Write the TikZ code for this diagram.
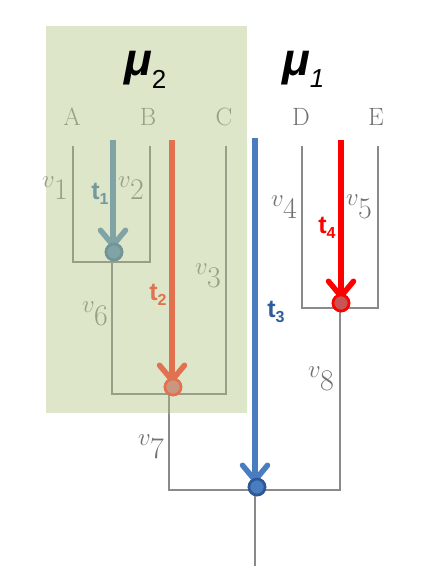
\documentclass[tikz,border=0pt]{standalone}
\usepackage{fontspec}
\newfontfamily\arialfont{Liberation Sans}
\usetikzlibrary{arrows.meta}
\definecolor{boxgreen}{HTML}{DDE6C8}
\definecolor{treegray}{HTML}{8A8A8A}
\definecolor{ingray}{HTML}{979F88}
\definecolor{outtext}{HTML}{727272}
\definecolor{tonecol}{HTML}{80A3A5}
\definecolor{tonetext}{HTML}{7298A0}
\definecolor{ttwocol}{HTML}{E2714F}
\definecolor{ttwofill}{HTML}{C99680}
\definecolor{tthreecol}{HTML}{4A7DC0}
\definecolor{tthreedark}{HTML}{2C5896}
\definecolor{tthreetext}{HTML}{2E5C9E}
\definecolor{tfourcol}{HTML}{FF0000}
\definecolor{tfourfill}{HTML}{C85555}
\newcommand\vlabel[1]{\fontsize{30}{30}\selectfont\raisebox{0.42em}{\fontsize{24}{24}\selectfont$v$}\kern-0.5pt#1}
\newcommand\tlabel[1]{t\raisebox{-5pt}{\fontsize{16}{16}\selectfont#1}}
\tikzset{
  treeline/.style={line width=1.1pt, line cap=rect},
  leaflab/.style={font=\fontsize{25}{25}\selectfont, inner sep=0},
  vlab/.style={inner sep=0},
  tarrow/.style={line width=5.5pt, shorten >=4pt, -{Straight Barb[length=15pt,width=25pt,line cap=round,line join=round]}},
  tnode/.style={circle, minimum size=16pt, inner sep=0, line width=2.6pt},
  tlab/.style={font=\arialfont\bfseries\fontsize{25}{25}\selectfont, inner sep=0},
  mulab/.style={font=\arialfont\bfseries\itshape\fontsize{46}{46}\selectfont, inner sep=0, anchor=base west},
}
\begin{document}
\begin{tikzpicture}[x=1pt,y=-1pt]
\useasboundingbox (0,0) rectangle (432,576);
\fill[white] (0,0) rectangle (432,576);
% highlight box
\fill[boxgreen] (46,26) rectangle (247,413);

% tree coordinates
\coordinate (Atop) at (73,147);  \coordinate (Abot) at (73,262);
\coordinate (Btop) at (150,147); \coordinate (Bbot) at (150,262);
\coordinate (j1) at (112,262);   \coordinate (j1b) at (112,394);
\coordinate (Ctop) at (226,147); \coordinate (Cbot) at (226,394);
\coordinate (j2) at (169,394);   \coordinate (j2b) at (169,490);
\coordinate (Dtop) at (302,147); \coordinate (Dbot) at (302,308);
\coordinate (Etop) at (378,147); \coordinate (Ebot) at (378,308);
\coordinate (j4) at (340,308);   \coordinate (j4b) at (340,490);
\coordinate (root) at (255,490); \coordinate (rootb) at (255,565);

\newcommand\treepaths[1]{%
  \draw[treeline,#1] (Atop) -- (Abot) -- (Bbot) -- (Btop);
  \draw[treeline,#1] (j1) -- (j1b) -- (Cbot) -- (Ctop);
  \draw[treeline,#1] (j2) -- (j2b) -- (j4b) -- (j4);
  \draw[treeline,#1] (Dtop) -- (Dbot) -- (Ebot) -- (Etop);
  \draw[treeline,#1] (root) -- (rootb);
}
\treepaths{treegray}
\begin{scope}
  \clip (46,26) rectangle (247,413);
  \treepaths{ingray}
\end{scope}

% leaf letters
\node[leaflab, text=ingray]  (A) at (72,117) {A};
\node[leaflab, text=ingray]  (B) at (148,117) {B};
\node[leaflab, text=ingray]  (C) at (224,117) {C};
\node[leaflab, text=outtext] (D) at (301,117) {D};
\node[leaflab, text=outtext] (E) at (376,117) {E};

% branch labels
\node[vlab, text=ingray]  (v1) at (55,188) {\vlabel{1}};
\node[vlab, text=ingray]  (v2) at (131,188) {\vlabel{2}};
\node[vlab, text=ingray]  (v3) at (208,276) {\vlabel{3}};
\node[vlab, text=outtext] (v4) at (284,207) {\vlabel{4}};
\node[vlab, text=outtext] (v5) at (359,207) {\vlabel{5}};
\node[vlab, text=ingray]  (v6) at (95,314) {\vlabel{6}};
\node[vlab, text=outtext] (v7) at (151,447) {\vlabel{7}};
\node[vlab, text=outtext] (v8) at (321,379) {\vlabel{8}};

% mu labels
\node[mulab] (mu2) at (124,75) {\char"03BC\raisebox{-13pt}{\mdseries\upshape\fontsize{26}{26}\selectfont 2}};
\node[mulab] (mu1) at (282,75) {\char"03BC\raisebox{-12pt}{\mdseries\fontsize{26}{26}\selectfont 1}};

% event nodes
\coordinate (s1) at (113,140);
\coordinate (s2) at (172,140);
\coordinate (s3) at (255,138);
\coordinate (s4) at (341,140);
\node[tnode, fill=tonecol, draw=tonecol!90!black] (n1) at (114,252) {};
\node[tnode, fill=ttwofill, draw=ttwocol] (n2) at (173,387) {};
\node[tnode, fill=tthreecol, draw=tthreedark] (n3) at (257,487) {};
\node[tnode, fill=tfourfill, draw=tfourcol] (n4) at (341,303) {};

\draw[tarrow, tonecol] (s1) -- (s1 |- n1.center);
\draw[tarrow, ttwocol] (s2) -- (s2 |- n2.center);
\draw[tarrow, tthreecol] (s3) -- (s3 |- n3.center);
\draw[tarrow, tfourcol] (s4) -- (s4 |- n4.center);

% redraw circles on top
\node[tnode, fill=tonecol, draw=tonecol!90!black] at (n1) {};
\node[tnode, fill=ttwofill, draw=ttwocol] at (n2) {};
\node[tnode, fill=tthreecol, draw=tthreedark] at (n3) {};
\node[tnode, fill=tfourfill, draw=tfourcol] at (n4) {};

% t labels
\node[tlab, text=tonetext]   (t1) at (100,194) {\tlabel{1}};
\node[tlab, text=ttwocol]    (t2) at (158,295) {\tlabel{2}};
\node[tlab, text=tthreetext] (t3) at (276,312) {\tlabel{3}};
\node[tlab, text=tfourcol]   (t4) at (327,228) {\tlabel{4}};
\end{tikzpicture}
\end{document}
